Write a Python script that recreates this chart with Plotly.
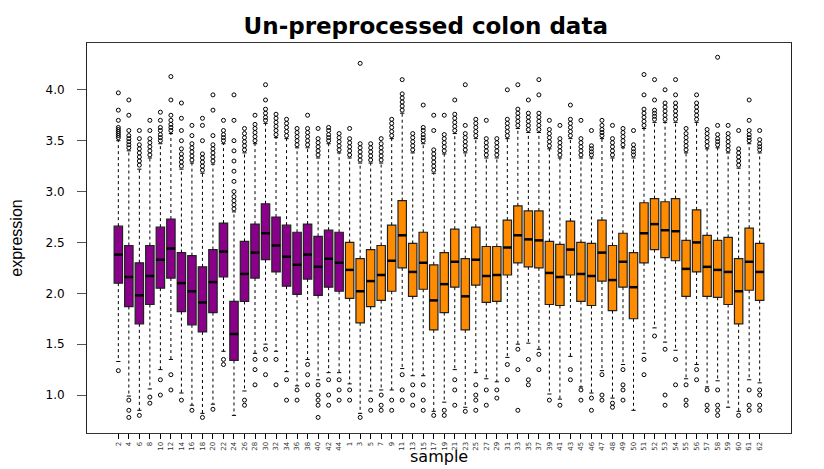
import plotly.graph_objects as go

# Sample labels: 22 normal tissues (purple) followed by 40 tumours (orange)
NORMAL_LABELS = [str(v) for v in range(2, 45, 2)]
TUMOR_LABELS = [str(v) for v in range(1, 44, 2)] + [str(v) for v in range(45, 63)]
LABELS = NORMAL_LABELS + TUMOR_LABELS
N_NORMAL = len(NORMAL_LABELS)

Q3 = [2.66, 2.47, 2.30, 2.47, 2.65, 2.73, 2.40, 2.37, 2.26, 2.43, 2.69, 1.92, 2.51, 2.68, 2.88, 2.75,
      2.67, 2.60, 2.68, 2.56, 2.62, 2.60,
      2.50, 2.34, 2.43, 2.47, 2.67, 2.91, 2.49, 2.60, 2.28, 2.40, 2.63, 2.34, 2.65, 2.46, 2.46, 2.72,
      2.86, 2.81, 2.81, 2.51, 2.48, 2.71, 2.50, 2.49, 2.72, 2.47, 2.59, 2.40, 2.89, 2.93, 2.90, 2.93,
      2.52, 2.82, 2.57, 2.52, 2.55, 2.34, 2.64, 2.49]
MEDIAN = [2.38, 2.16, 1.98, 2.17, 2.33, 2.44, 2.10, 2.02, 1.91, 2.11, 2.41, 1.60, 2.19, 2.40, 2.59, 2.47,
          2.36, 2.28, 2.38, 2.26, 2.34, 2.30,
          2.23, 2.02, 2.12, 2.18, 2.32, 2.57, 2.21, 2.30, 1.93, 2.09, 2.31, 1.97, 2.33, 2.17, 2.18, 2.45,
          2.57, 2.53, 2.52, 2.20, 2.16, 2.43, 2.19, 2.17, 2.40, 2.13, 2.31, 2.06, 2.59, 2.68, 2.62, 2.61,
          2.24, 2.50, 2.26, 2.23, 2.21, 2.02, 2.31, 2.21]
Q1 = [2.10, 1.87, 1.70, 1.89, 2.05, 2.15, 1.82, 1.69, 1.62, 1.81, 2.16, 1.34, 1.92, 2.15, 2.33, 2.21,
      2.07, 1.99, 2.14, 1.98, 2.06, 2.02,
      1.95, 1.71, 1.87, 1.93, 2.02, 2.25, 1.97, 2.04, 1.64, 1.81, 2.06, 1.64, 2.08, 1.91, 1.92, 2.18,
      2.30, 2.26, 2.25, 1.89, 1.88, 2.18, 1.92, 1.88, 2.12, 1.83, 2.06, 1.75, 2.30, 2.43, 2.35, 2.32,
      1.97, 2.21, 1.97, 1.96, 1.89, 1.70, 2.03, 1.93]
WHISKER_LOW = [1.33, 0.99, 0.85, 1.06, 1.25, 1.35, 1.02, 0.90, 0.82, 0.91, 1.43, 0.80, 1.04, 1.41, 1.50,
               1.43, 1.23, 1.09, 1.35, 1.15, 1.22, 1.22,
               1.11, 0.82, 1.04, 1.05, 1.05, 1.26, 1.19, 1.19, 0.84, 0.93, 1.25, 0.88, 1.22, 1.16, 1.13,
               1.37, 1.50, 1.51, 1.45, 1.01, 0.96, 1.38, 1.08, 1.02, 1.24, 0.97, 1.30, 0.85, 1.41, 1.66,
               1.52, 1.44, 1.16, 1.30, 1.08, 1.14, 0.88, 0.84, 1.15, 1.12]
WHISKER_HIGH = [3.50, 3.40, 3.22, 3.33, 3.47, 3.57, 3.22, 3.28, 3.18, 3.27, 3.47, 2.80, 3.38, 3.47, 3.67,
                3.53, 3.52, 3.43, 3.43, 3.33, 3.47, 3.38,
                3.33, 3.28, 3.28, 3.28, 3.52, 3.77, 3.38, 3.47, 3.18, 3.37, 3.57, 3.38, 3.52, 3.33, 3.33,
                3.52, 3.62, 3.58, 3.58, 3.42, 3.33, 3.52, 3.33, 3.33, 3.52, 3.33, 3.43, 3.33, 3.62, 3.68,
                3.68, 3.68, 3.38, 3.68, 3.42, 3.43, 3.38, 3.23, 3.47, 3.38]

OUTLIERS_HIGH = [
    [3.53, 3.55, 3.57, 3.59, 3.61, 3.63, 3.70, 3.80, 3.97],
    [3.43, 3.46, 3.49, 3.52, 3.55, 3.60, 3.75, 3.90],
    [3.26, 3.30, 3.34, 3.38, 3.42, 3.46, 3.52, 3.60],
    [3.36, 3.40, 3.44, 3.48, 3.52, 3.60, 3.70],
    [3.50, 3.53, 3.56, 3.60, 3.63, 3.70, 3.78],
    [3.60, 3.63, 3.66, 3.70, 3.75, 3.90, 4.13],
    [3.25, 3.29, 3.33, 3.37, 3.42, 3.50, 3.60, 3.72, 3.87],
    [3.31, 3.35, 3.39, 3.43, 3.47, 3.55, 3.65],
    [3.21, 3.25, 3.29, 3.33, 3.37, 3.50, 3.65, 3.72],
    [3.30, 3.34, 3.38, 3.42, 3.46, 3.55, 3.80, 3.95],
    [3.50, 3.53, 3.56, 3.60, 3.70],
    [2.83, 2.87, 2.91, 2.95, 3.00, 3.10, 3.20, 3.30, 3.40, 3.50, 3.70, 3.95],
    [3.41, 3.45, 3.49, 3.53, 3.57, 3.62],
    [3.50, 3.54, 3.58, 3.62, 3.66, 3.75],
    [3.70, 3.73, 3.77, 3.81, 3.90, 4.05],
    [3.56, 3.60, 3.64, 3.68, 3.72, 3.76],
    [3.55, 3.59, 3.63, 3.67, 3.71],
    [3.46, 3.50, 3.54, 3.58, 3.62],
    [3.46, 3.50, 3.54, 3.58, 3.62, 3.75],
    [3.36, 3.40, 3.44, 3.48, 3.52, 3.62],
    [3.50, 3.53, 3.56, 3.60, 3.63],
    [3.41, 3.45, 3.49, 3.53, 3.57],
    [3.36, 3.40, 3.44, 3.48, 3.52, 3.62],
    [3.31, 3.35, 3.39, 3.43, 3.47, 4.26],
    [3.31, 3.35, 3.39, 3.43, 3.47],
    [3.31, 3.35, 3.39, 3.43, 3.47, 3.52],
    [3.55, 3.59, 3.63, 3.67, 3.71],
    [3.80, 3.84, 3.88, 3.92, 3.96, 4.10],
    [3.41, 3.45, 3.49, 3.53, 3.57],
    [3.50, 3.53, 3.56, 3.60, 3.63, 3.85],
    [3.21, 3.25, 3.29, 3.33, 3.37, 3.41, 3.60, 3.75],
    [3.40, 3.44, 3.48, 3.52, 3.56, 3.75],
    [3.60, 3.64, 3.68, 3.72, 3.76, 3.90],
    [3.41, 3.45, 3.49, 3.53, 3.57, 3.65, 4.05],
    [3.55, 3.59, 3.63, 3.67, 3.71],
    [3.36, 3.40, 3.44, 3.48, 3.52, 3.70],
    [3.36, 3.40, 3.44, 3.48, 3.52],
    [3.55, 3.59, 3.63, 3.67, 3.71, 4.00],
    [3.65, 3.69, 3.73, 3.77, 3.81, 4.05],
    [3.61, 3.65, 3.69, 3.73, 3.77, 3.90],
    [3.61, 3.65, 3.69, 3.73, 3.77, 3.95, 4.10],
    [3.45, 3.49, 3.53, 3.57, 3.61, 3.70],
    [3.36, 3.40, 3.44, 3.48, 3.52, 3.65],
    [3.55, 3.59, 3.63, 3.67, 3.71, 3.85],
    [3.36, 3.40, 3.44, 3.48, 3.52, 3.70],
    [3.36, 3.39, 3.42, 3.45, 3.60],
    [3.55, 3.58, 3.61, 3.65, 3.70],
    [3.36, 3.40, 3.44, 3.48, 3.52, 3.65],
    [3.46, 3.50, 3.54, 3.58, 3.62],
    [3.36, 3.39, 3.42, 3.46, 3.60],
    [3.65, 3.69, 3.73, 3.77, 3.81, 3.95, 4.15],
    [3.71, 3.74, 3.77, 3.80, 3.90, 4.10],
    [3.71, 3.75, 3.79, 3.83, 3.87, 4.00],
    [3.71, 3.75, 3.79, 3.83, 3.87, 3.95, 4.10],
    [3.41, 3.45, 3.49, 3.53, 3.57, 3.62],
    [3.71, 3.75, 3.79, 3.83, 3.87, 3.95],
    [3.45, 3.49, 3.53, 3.57, 3.61],
    [3.46, 3.49, 3.52, 3.56, 3.65, 4.32],
    [3.41, 3.45, 3.49, 3.53, 3.57, 3.65],
    [3.26, 3.30, 3.34, 3.38, 3.42, 3.60],
    [3.50, 3.53, 3.56, 3.60, 3.70, 3.90],
    [3.41, 3.44, 3.47, 3.51, 3.60],
]
OUTLIERS_LOW = [
    [1.24], [0.95, 0.85, 0.78], [0.80], [0.98, 0.92], [1.15, 1.00], [1.20, 1.05], [0.95], [0.85],
    [0.78], [0.86], [1.35, 1.30], [], [0.95, 0.90], [1.35, 1.25, 1.10], [1.45, 1.35, 1.20],
    [1.35, 1.10], [1.15, 0.95], [1.05, 0.95], [1.30, 1.20, 1.10], [1.10, 1.00, 0.95, 0.90, 0.78],
    [1.15, 1.00, 0.90], [1.15, 1.05, 0.95],
    [1.05, 0.95], [0.78], [0.95, 0.85], [1.00, 0.90, 0.85], [0.95, 0.85], [1.20, 1.05, 0.95],
    [1.10, 1.00, 0.90], [1.10, 0.95, 0.85], [0.80], [0.85, 0.80], [1.15, 1.05, 0.90], [0.84],
    [1.10, 1.00, 0.95, 0.85], [1.05, 0.90], [1.05, 0.97], [1.30, 1.15], [1.45, 1.25, 0.85],
    [1.35, 1.15, 1.10], [1.40, 1.25], [0.95], [0.90], [1.25, 1.15], [1.05, 0.95], [0.97, 0.85],
    [1.20, 1.00, 0.95], [0.92, 0.88], [1.25, 1.10, 1.05, 0.95], [], [1.35, 1.20], [1.58],
    [1.45, 1.00, 0.90], [1.35, 1.10], [1.10, 0.95, 0.90], [1.25, 1.15], [1.05, 0.90, 0.85],
    [1.05, 0.90, 0.85, 0.80], [], [0.80], [1.05, 0.90, 0.85], [1.05, 1.00, 0.90, 0.85],
]

Y_TICKS = [1.0, 1.5, 2.0, 2.5, 3.0, 3.5, 4.0]


def segments(pairs):
    """Собирает отрезки в один список с разделителями None."""
    xs, ys = [], []
    for (x0, y0, x1, y1) in pairs:
        xs += [x0, x1, None]
        ys += [y0, y1, None]
    return xs, ys


def create_boxplot() -> go.Figure:
    pos = list(range(1, len(LABELS) + 1))
    fig = go.Figure()

    # Ящики: нормальные ткани и опухоли
    for sl, color in [(slice(0, N_NORMAL), '#8B008B'), (slice(N_NORMAL, None), '#FF8C00')]:
        fig.add_trace(go.Box(
            x=pos[sl], q1=Q1[sl], median=MEDIAN[sl], q3=Q3[sl],
            lowerfence=Q1[sl], upperfence=Q3[sl],
            fillcolor=color, width=0.8, whiskerwidth=0,
            line=dict(color='#222222', width=1.2),
            boxpoints=False, hoverinfo='skip', showlegend=False,
        ))

    # Усы пунктиром
    wx, wy = segments(
        [(p, Q3[i], p, WHISKER_HIGH[i]) for i, p in enumerate(pos)] +
        [(p, Q1[i], p, WHISKER_LOW[i]) for i, p in enumerate(pos)])
    fig.add_trace(go.Scatter(x=wx, y=wy, mode='lines', line=dict(color='black', width=1, dash='dot'),
                             hoverinfo='skip', showlegend=False))

    # Засечки на концах усов
    cx, cy = segments(
        [(p - 0.2, WHISKER_HIGH[i], p + 0.2, WHISKER_HIGH[i]) for i, p in enumerate(pos)] +
        [(p - 0.2, WHISKER_LOW[i], p + 0.2, WHISKER_LOW[i]) for i, p in enumerate(pos)])
    fig.add_trace(go.Scatter(x=cx, y=cy, mode='lines', line=dict(color='black', width=1),
                             hoverinfo='skip', showlegend=False))

    # Медианы жирной линией
    mx, my = segments([(p - 0.4, MEDIAN[i], p + 0.4, MEDIAN[i]) for i, p in enumerate(pos)])
    fig.add_trace(go.Scatter(x=mx, y=my, mode='lines', line=dict(color='black', width=2.5),
                             hoverinfo='skip', showlegend=False))

    # Выбросы
    ox, oy = [], []
    for i, p in enumerate(pos):
        for v in OUTLIERS_HIGH[i] + OUTLIERS_LOW[i]:
            ox.append(p)
            oy.append(v)
    fig.add_trace(go.Scatter(x=ox, y=oy, mode='markers',
                             marker=dict(symbol='circle-open', size=4, color='black', line=dict(width=1)),
                             hoverinfo='skip', showlegend=False))

    fig.update_layout(
        width=824, height=469,
        margin=dict(l=79, r=41, t=35, b=44),
        plot_bgcolor='white', paper_bgcolor='white',
        title=dict(text='<b>Un-preprocessed colon data</b>', x=0.507, xanchor='center',
                   y=0.962, yanchor='middle',
                   font=dict(family='DejaVu Sans', size=23, color='black')),
        font=dict(family='DejaVu Sans', color='black'),
        # Подпись оси X аннотацией, чтобы не обрезалась снизу
        annotations=[dict(text='sample', xref='paper', yref='paper', x=0.5, y=-0.06,
                          xanchor='center', yanchor='middle', showarrow=False,
                          font=dict(family='DejaVu Sans', size=16, color='black'))],
    )
    fig.update_xaxes(
        range=[-1.98, 64.98], tickmode='array', tickvals=pos, ticktext=LABELS,
        tickangle=-90, tickfont=dict(size=7, color='#333333'), ticks='outside', ticklen=5,
        tickcolor='black', showline=True, mirror=True, linecolor='#333333', linewidth=1,
        showgrid=False, zeroline=False, automargin=False,
    )
    fig.update_yaxes(
        range=[0.627, 4.46], tickmode='array', tickvals=Y_TICKS,
        ticktext=[f'{v:.1f}' for v in Y_TICKS], tickfont=dict(size=12),
        ticks='outside', ticklen=9, tickcolor='#555555', ticklabelstandoff=10,
        showline=True, mirror=True, linecolor='#222222', linewidth=1,
        showgrid=False, zeroline=False, automargin=False,
        title=dict(text='expression', font=dict(family='Liberation Sans', size=16), standoff=26),
    )
    return fig


def main():
    fig = create_boxplot()
    fig.write_html('out.html')


if __name__ == '__main__':
    main()
